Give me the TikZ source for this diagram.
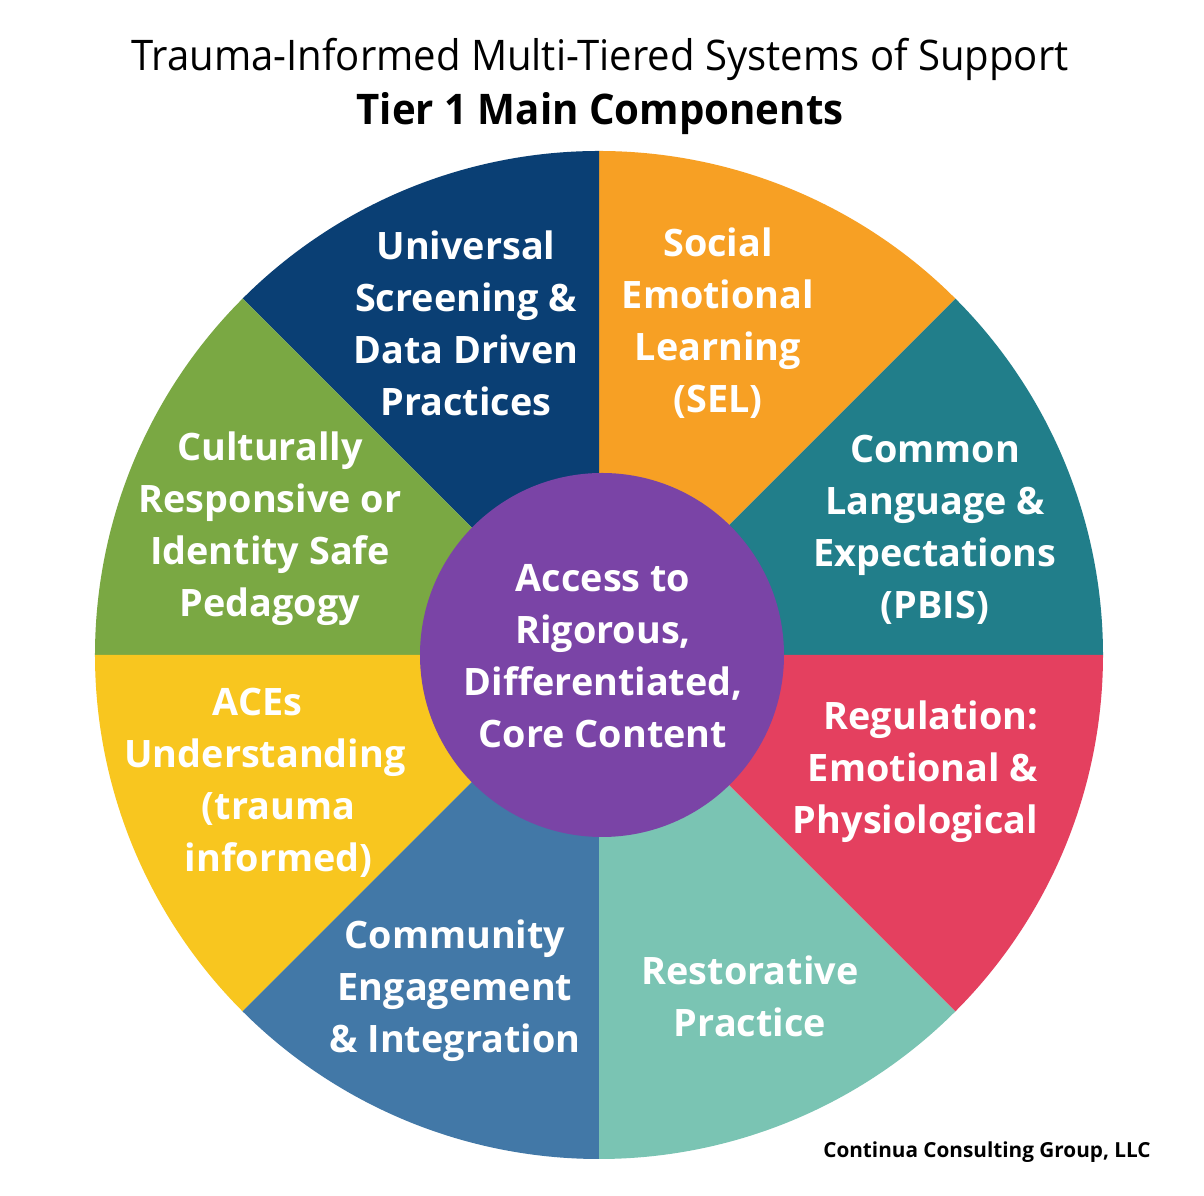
\documentclass[tikz,border=0pt]{standalone}
\usepackage{fontspec}
\setmainfont{Open Sans}
\usepackage{xcolor}
\usepackage{tikz}

\definecolor{screenblue}{HTML}{0A3F74}
\definecolor{selorange}{HTML}{F7A024}
\definecolor{pbisteal}{HTML}{217E8A}
\definecolor{regred}{HTML}{E4405F}
\definecolor{restteal}{HTML}{7AC4B3}
\definecolor{commblue}{HTML}{4278A7}
\definecolor{acesyellow}{HTML}{F8C61F}
\definecolor{culturegreen}{HTML}{7AA843}
\definecolor{corepurple}{HTML}{7A44A6}

\tikzset{
  seg/.style={text=white, align=center, inner sep=0pt,
    font=\bfseries\fontsize{10.75}{14.8}\selectfont},
}

\begin{document}
\begin{tikzpicture}
\useasboundingbox [fill=white] (-5.99,-5.41) rectangle (6.05,6.55);
% outer wheel
\fill [pbisteal] (0,0) -- (0:5.04) arc [start angle=0, end angle=45, radius=5.04] -- cycle;
\fill [selorange] (0,0) -- (45:5.04) arc [start angle=45, end angle=90, radius=5.04] -- cycle;
\fill [screenblue] (0,0) -- (90:5.04) arc [start angle=90, end angle=135, radius=5.04] -- cycle;
\fill [culturegreen] (0,0) -- (135:5.04) arc [start angle=135, end angle=180, radius=5.04] -- cycle;
\fill [acesyellow] (0,0) -- (180:5.04) arc [start angle=180, end angle=225, radius=5.04] -- cycle;
\fill [commblue] (0,0) -- (225:5.04) arc [start angle=225, end angle=270, radius=5.04] -- cycle;
\fill [restteal] (0,0) -- (270:5.04) arc [start angle=270, end angle=315, radius=5.04] -- cycle;
\fill [regred] (0,0) -- (315:5.04) arc [start angle=315, end angle=360, radius=5.04] -- cycle;
% hub
\fill [corepurple] (0.03,0) circle [radius=1.82];

\node [seg] (screening) at (-1.33,3.32) {Universal\\Screening \&\\Data Driven\\Practices};
\node [seg] (sel) at (1.19,3.32) {Social\\Emotional\\Learning\\(SEL)};
\node [seg] (pbis) at (3.36,1.25) {Common\\Language \&\\Expectations\\(PBIS)};
\node [seg, align=right, anchor=east] (regulation) at (4.40,-1.17) {Regulation:\\Emotional \&\\Physiological};
\node [seg] (restorative) at (1.51,-3.41) {Restorative\\Practice};
\node [seg] (community) at (-1.44,-3.36) {Community\\Engagement\\\& Integration};
\node [seg] (aces) at (-3.34,-1.28) {ACEs\hspace*{0.15cm}\\Understanding\\\hspace*{0.27cm}(trauma\\\hspace*{0.27cm}informed)};
\node [seg] (culture) at (-3.29,1.26) {Culturally\\Responsive or\\Identity Safe\\Pedagogy};
\node [seg] (core) at (0.04,-0.01) {Access to\\Rigorous,\\Differentiated,\\Core Content};

\node [font=\fontsize{12}{14}\selectfont] (title) at (0.01,5.96)
  {\scalebox{0.95}[1]{Trauma-Informed Multi-Tiered Systems of Support}};
\node [font=\bfseries\fontsize{12}{14}\selectfont] (subtitle) at (0.01,5.41)
  {\scalebox{0.953}[1]{Tier 1 Main Components}};
\node [font=\bfseries\fontsize{5.9}{7}\selectfont] (credit) at (3.88,-4.97)
  {Continua Consulting Group, LLC};
\end{tikzpicture}
\end{document}
